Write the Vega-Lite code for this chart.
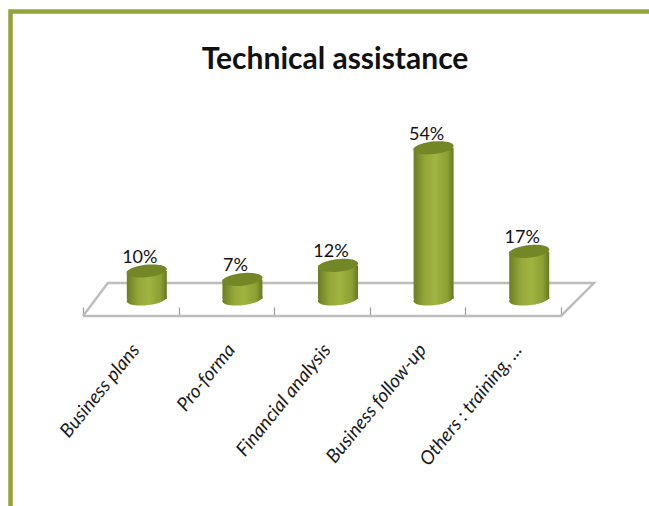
{
"$schema":"https://vega.github.io/schema/vega-lite/v6.json",
"width":649,"height":506,
"autosize":{"type":"fit","contains":"padding"},
"padding":0,
"background":"white",
"view":{"stroke":null},
"config":{"font":"Lato"},
"title":{"text":"Technical assistance","font":"Lato","fontWeight":"bold","fontSize":30,"color":"#111111","anchor":"middle","frame":"group","offset":-75,"dx":15},
"datasets":{
"bars":[
{"category":"Business plans","value":10,"label":"10%"},
{"category":"Pro-forma","value":7,"label":"7%"},
{"category":"Financial analysis","value":12,"label":"12%"},
{"category":"Business follow-up","value":54,"label":"54%"},
{"category":"Others : training, ...","value":17,"label":"17%"}],
"floor":[
{"u":0,"v":-6.07,"o":0},{"u":5,"v":-6.07,"o":1},{"u":5.345,"v":5.71,"o":2},{"u":0.26,"v":5.71,"o":3},{"u":0,"v":-6.07,"o":4}],
"frame":[
{"u":-0.758,"v":-73.9,"o":0},{"u":-0.758,"v":102.7,"o":1},{"u":5.921,"v":102.7,"o":2}]
},
"layer":[
{"layer":[
{"data":{"name":"floor"},"mark":{"type":"line","color":"#bdbdbd","strokeWidth":2.5,"strokeJoin":"miter"},
"encoding":{
"x":{"field":"u","type":"quantitative","scale":{"domain":[-0.868,5.921],"range":[0,649],"nice":false,"zero":false},
"axis":{"values":[0,1,2,3,4,5],"labels":false,"domain":false,"grid":false,"title":null,"orient":"bottom","offset":-190,"tickSize":8,"tickColor":"#9a9a9a","tickWidth":1.2}},
"y":{"field":"v","type":"quantitative","scale":{"domain":[-73.93,106.79],"range":[506,0],"nice":false,"zero":false},"axis":null},
"order":{"field":"o"}}},
{"data":{"name":"frame"},"mark":{"type":"line","color":"#94a33a","strokeWidth":4.5,"strokeJoin":"miter","clip":false},
"encoding":{
"x":{"field":"u","type":"quantitative"},
"y":{"field":"v","type":"quantitative"},
"order":{"field":"o"}}}
]},
{"data":{"name":"bars"},"layer":[
{"mark":{"type":"point","filled":true,"size":1600,"xOffset":16,"opacity":1,"strokeWidth":0,
"shape":"M-1,0.06 A1,0.31,-6,1,1,1,-0.06 A1,0.31,-6,1,1,-1,0.06 Z",
"fill":{"x1":0,"y1":0,"x2":1,"y2":0,"gradient":"linear","stops":[{"offset":0,"color":"#6b7e24"},{"offset":0.3,"color":"#94a939"},{"offset":0.55,"color":"#a0b440"},{"offset":0.85,"color":"#8a9e33"},{"offset":1,"color":"#667820"}]}},
"encoding":{
"x":{"field":"category","type":"nominal","sort":null,"scale":{"range":[83,561],"paddingInner":0,"paddingOuter":0},
"axis":{"orient":"bottom","offset":-190,"title":null,"domain":false,"ticks":false,"grid":false,"labelAngle":-51,"labelAlign":"right","labelBaseline":"middle","labelPadding":39,"labelOffset":5,"labelFont":"Lato","labelFontStyle":"italic","labelFontSize":19,"labelColor":"#1a1a1a","labelOverlap":false,"labelLimit":200}},
"y":{"datum":0,"type":"quantitative"}}},
{"mark":{"type":"bar","size":40,"xOffset":16,
"fill":{"x1":0,"y1":0,"x2":1,"y2":0,"gradient":"linear","stops":[{"offset":0,"color":"#6b7e24"},{"offset":0.3,"color":"#94a939"},{"offset":0.55,"color":"#a0b440"},{"offset":0.85,"color":"#8a9e33"},{"offset":1,"color":"#667820"}]}},
"encoding":{
"x":{"field":"category","type":"nominal","sort":null},
"y":{"field":"value","type":"quantitative","stack":null}}},
{"mark":{"type":"point","filled":true,"size":1600,"xOffset":16,"opacity":1,"strokeWidth":0,"color":"#748727",
"shape":"M-1,0.06 A1,0.31,-6,1,1,1,-0.06 A1,0.31,-6,1,1,-1,0.06 Z"},
"encoding":{
"x":{"field":"category","type":"nominal","sort":null},
"y":{"field":"value","type":"quantitative"}}},
{"mark":{"type":"text","font":"Lato","fontSize":18,"color":"#111111","xOffset":9,"yOffset":-8,"baseline":"alphabetic","align":"center"},
"encoding":{
"x":{"field":"category","type":"nominal","sort":null},
"y":{"field":"value","type":"quantitative"},
"text":{"field":"label"}}}
]}
],
"resolve":{"scale":{"x":"independent"},"axis":{"x":"independent"}}
}
